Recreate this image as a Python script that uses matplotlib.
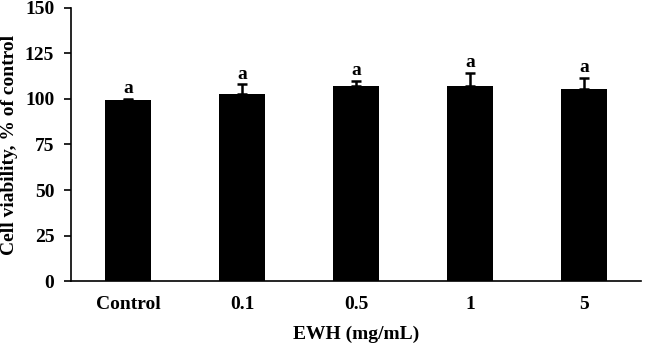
import numpy as np
import matplotlib.pyplot as plt

plt.rcParams['font.family'] = 'Liberation Serif'
plt.rcParams['font.weight'] = 'bold'

categories = ['Control', '0.1', '0.5', '1', '5']
viability = [99.5, 102.5, 107.0, 107.0, 105.5]
errors = [0.7, 5.5, 2.8, 7.5, 6.0]
letters = ['a', 'a', 'a', 'a', 'a']

fig = plt.figure(figsize=(6.45, 3.44), dpi=100)
ax = fig.add_axes([0.110, 0.183, 0.884, 0.794])

x = np.arange(len(categories))
ax.bar(x, viability, 0.4, color='black',
       yerr=[np.zeros(len(errors)), errors], capsize=3.5,
       error_kw={'ecolor': 'black', 'elinewidth': 1.8, 'capthick': 1.8})

for xi, v, e, l in zip(x, viability, errors, letters):
    ax.text(xi, v + e + 1, l, ha='center', va='bottom', fontsize=14, fontweight='bold')

ax.set_xlim(-0.5, len(categories) - 0.5)
ax.set_ylim(0, 150)
ax.set_yticks(np.arange(0, 151, 25))
ax.set_xticks(x)
ax.set_xticklabels(categories)
ax.tick_params(axis='x', length=0, labelsize=14, pad=11)
ax.tick_params(axis='y', direction='out', length=5, width=1.2, labelsize=14, pad=7)
for s in ['top', 'right']:
    ax.spines[s].set_visible(False)
ax.spines['left'].set_linewidth(1.2)
ax.spines['bottom'].set_linewidth(1.2)

ax.set_xlabel('EWH (mg/mL)', fontsize=14, fontweight='bold', labelpad=9)
ax.set_ylabel('Cell viability, % of control', fontsize=14, fontweight='bold', labelpad=5)

fig.savefig('out.png', dpi=100)
